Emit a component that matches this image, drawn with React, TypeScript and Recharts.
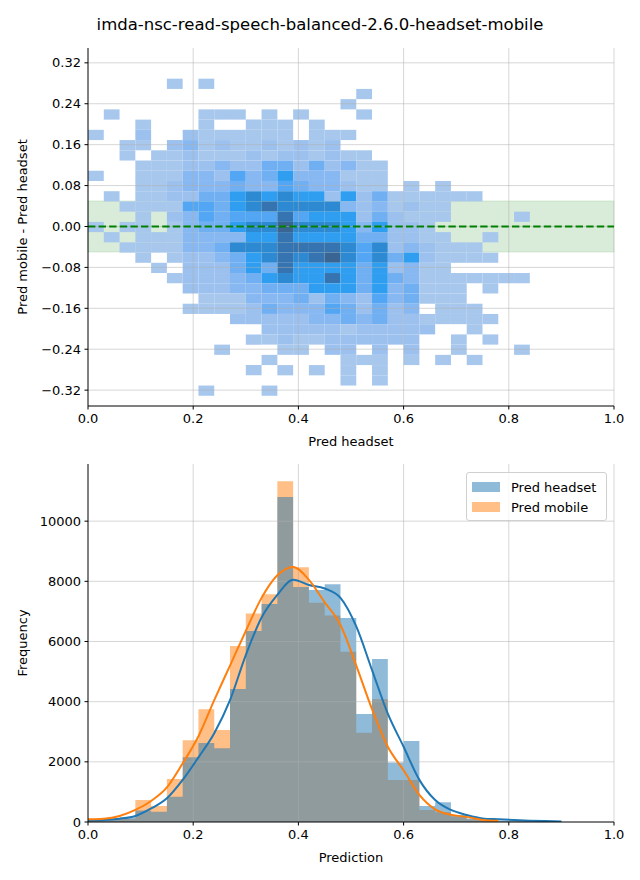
import React from "react";
import {
  ComposedChart,
  XAxis,
  YAxis,
  ReferenceArea,
  ReferenceLine,
  Area,
  Line,
  Legend,
} from "recharts";

const FONT = "'DejaVu Sans', sans-serif";
const TITLE = "imda-nsc-read-speech-balanced-2.6.0-headset-mobile";

// bin edges on the prediction axis (shared by both plots)
const BIN_EDGES = [
  0, 0.03, 0.06, 0.09, 0.12, 0.15, 0.18, 0.21, 0.24, 0.27, 0.3, 0.33, 0.36,
  0.39, 0.42, 0.45, 0.48, 0.51, 0.54, 0.57, 0.6, 0.63, 0.66, 0.69, 0.72, 0.75,
  0.78, 0.81, 0.84, 0.87, 0.9,
];

// ---- top plot: 2d histogram, rows of 0.02 starting at 0.289 going down
const ROW_TOP = 0.289;
const ROW_H = 0.02;

// one string per row (top first), one digit per column: shade level, 0 = empty
const HEAT_ROWS = [
  "0000010100000000000000000000",
  "0000000000000000010000000000",
  "0000000000000000100000000000",
  "0100000111010100010000000000",
  "0001000100111010000000000000",
  "1002002111111011100000000000",
  "0011023121121212000000000000",
  "0010112111212212110000000000",
  "0001112232244242311000000000",
  "1001113325346333111000000000",
  "0001123334335433211010100000",
  "0101122446767662624111111000",
  "0011115546787777323121100000",
  "0001023545558566624211100001",
  "1011013446779777636221000000",
  "0101113333668666644221100100",
  "0011113347778888757232111000",
  "0001012234678789757462111100",
  "0000102224648666646231100000",
  "0000012223467668646431111111",
  "0000002223344466646341110100",
  "0000000111333424325341110000",
  "0000001111243335424230111000",
  "0000000002222233434221111100",
  "0000000000022222122222001000",
  "0000000000112112222220010100",
  "0000000010001102202020010001",
  "0000000000010000111010101000",
  "0000000000101010101000000000",
  "0000000000000000101000000000",
  "0000000100010000000000000000",
];

const HEAT_COLORS = [
  "none",
  "#a7c7ed",
  "#9cc1ef",
  "#88b8f1",
  "#70aff2",
  "#53a6f4",
  "#309ef0",
  "#2d89d2",
  "#3574b0",
  "#3a6592",
];

const PRED_TICKS = [0, 0.2, 0.4, 0.6, 0.8, 1.0];
const DIFF_TICKS = [-0.32, -0.24, -0.16, -0.08, 0, 0.08, 0.16, 0.24, 0.32];
const DIFF_DOMAIN = [-0.351, 0.349];
const BAND = [-0.05, 0.05];

// ---- bottom plot: counts per bin and kde curves (read at the bin edges)
const HEADSET_COUNTS = [
  40, 100, 150, 380, 340, 840, 2150, 2630, 2450, 4420, 6350, 7250, 10800, 7810,
  7710, 7900, 6780, 3590, 5420, 1980, 2690, 530, 660, 230, 120, 60, 40, 30, 20,
  10,
];
const MOBILE_COUNTS = [
  60, 130, 110, 730, 530, 1430, 2720, 3750, 3060, 5850, 6930, 7570, 11330, 8470,
  7290, 6860, 5660, 2970, 4080, 1400, 1400, 400, 320, 180, 90, 40, 20, 15, 10, 5,
];
const HEADSET_KDE = [
  44, 70, 110, 200, 450, 790, 1400, 2150, 2950, 4050, 5550, 6800, 7550, 8050,
  7880, 7760, 7450, 6500, 5050, 3600, 2500, 1400, 730, 400, 235, 120, 90, 65,
  45, 30, 20,
];
const MOBILE_KDE = [
  89, 110, 200, 400, 700, 1150, 1950, 2850, 4050, 5200, 6350, 7450, 8200, 8480,
  8050, 7300, 6550, 5200, 3750, 2500, 1720, 900, 420, 240, 170, 70, 40,
];
const FREQ_TICKS = [0, 2000, 4000, 6000, 8000, 10000];
const FREQ_DOMAIN = [0, 11900];

const cells: { key: string; x1: number; x2: number; y1: number; y2: number; level: number }[] = [];
HEAT_ROWS.forEach((row, j) => {
  row.split("").forEach((ch, k) => {
    const level = Number(ch);
    if (level > 0) {
      cells.push({
        key: `${j}-${k}`,
        x1: BIN_EDGES[k],
        x2: BIN_EDGES[k + 1],
        y1: ROW_TOP - (j + 1) * ROW_H,
        y2: ROW_TOP - j * ROW_H,
        level,
      });
    }
  });
});

const histData = BIN_EDGES.map((x, i) => ({
  x,
  headset: HEADSET_COUNTS[i] ?? 0,
  mobile: MOBILE_COUNTS[i] ?? 0,
  headsetKde: HEADSET_KDE[i] ?? null,
  mobileKde: MOBILE_KDE[i] ?? null,
}));

const tickStyle = { fill: "#000", fontSize: 13, fontFamily: FONT };
const labelStyle = { fill: "#000", fontSize: 13, fontFamily: FONT };
const gridProps = { stroke: "#b0b0b0", strokeOpacity: 0.5, strokeWidth: 1 };

const minus = (v: number) => (v < 0 ? "\u2212" : "") + Math.abs(v).toFixed(2);

function LegendBox() {
  const rows = [
    { name: "Pred headset", color: "#1f77b4" },
    { name: "Pred mobile", color: "#ff7f0e" },
  ];
  return (
    <div
      style={{
        border: "1px solid #d0d0d0",
        borderRadius: 3,
        background: "rgba(255,255,255,0.8)",
        padding: "4px 6px 3px 5px",
        fontFamily: FONT,
        fontSize: 13,
        color: "#000",
      }}
    >
      {rows.map((r) => (
        <div key={r.name} style={{ display: "flex", alignItems: "center", height: 20 }}>
          <span
            style={{
              display: "inline-block",
              width: 28,
              height: 10,
              background: r.color,
              opacity: 0.5,
              marginRight: 11,
            }}
          />
          {r.name}
        </div>
      ))}
    </div>
  );
}

function Heatmap() {
  return (
    <ComposedChart
      width={640}
      height={452}
      margin={{ top: 48, right: 26, bottom: 0, left: 0 }}
    >
      <XAxis
        type="number"
        dataKey="x"
        domain={[0, 1]}
        ticks={PRED_TICKS}
        tickFormatter={(v: number) => v.toFixed(1)}
        allowDataOverflow
        height={46}
        tickSize={3.5}
        tickMargin={4}
        tick={tickStyle}
        axisLine={{ stroke: "#000" }}
        tickLine={{ stroke: "#000" }}
        label={{ value: "Pred headset", position: "insideBottom", offset: 6, ...labelStyle }}
      />
      <YAxis
        type="number"
        domain={DIFF_DOMAIN}
        ticks={DIFF_TICKS}
        tickFormatter={minus}
        allowDataOverflow
        width={88}
        tickSize={3.5}
        tickMargin={3.5}
        tick={tickStyle}
        axisLine={{ stroke: "#000" }}
        tickLine={{ stroke: "#000" }}
        label={{
          value: "Pred mobile - Pred headset",
          angle: -90,
          position: "insideLeft",
          offset: 22,
          style: { textAnchor: "middle" },
          ...labelStyle,
        }}
      />
      <ReferenceArea
        x1={0}
        x2={1}
        y1={BAND[0]}
        y2={BAND[1]}
        fill="green"
        fillOpacity={0.15}
        stroke="green"
        strokeOpacity={0.12}
      />
      {cells.map((c) => (
        <ReferenceArea
          key={c.key}
          x1={c.x1}
          x2={c.x2}
          y1={c.y1}
          y2={c.y2}
          fill={HEAT_COLORS[c.level]}
          fillOpacity={1}
          stroke="none"
        />
      ))}
      {PRED_TICKS.slice(1).map((t) => (
        <ReferenceLine key={`gx${t}`} x={t} {...gridProps} />
      ))}
      {DIFF_TICKS.map((t) => (
        <ReferenceLine key={`gy${t}`} y={t} {...gridProps} />
      ))}
      <ReferenceLine y={0} stroke="green" strokeWidth={2} strokeDasharray="7.4 3.2" />
    </ComposedChart>
  );
}

function Histogram() {
  return (
    <ComposedChart
      width={640}
      height={428}
      data={histData}
      margin={{ top: 12, right: 26, bottom: 0, left: 0 }}
    >
      <XAxis
        type="number"
        dataKey="x"
        domain={[0, 1]}
        ticks={PRED_TICKS}
        tickFormatter={(v: number) => v.toFixed(1)}
        allowDataOverflow
        height={58}
        tickSize={3.5}
        tickMargin={4}
        tick={tickStyle}
        axisLine={{ stroke: "#000" }}
        tickLine={{ stroke: "#000" }}
        label={{ value: "Prediction", position: "insideBottom", offset: 18, ...labelStyle }}
      />
      <YAxis
        type="number"
        domain={FREQ_DOMAIN}
        ticks={FREQ_TICKS}
        allowDataOverflow
        width={88}
        tickSize={3.5}
        tickMargin={3.5}
        tick={tickStyle}
        axisLine={{ stroke: "#000" }}
        tickLine={{ stroke: "#000" }}
        label={{
          value: "Frequency",
          angle: -90,
          position: "insideLeft",
          offset: 22,
          style: { textAnchor: "middle" },
          ...labelStyle,
        }}
      />
      <Area
        type="stepAfter"
        dataKey="mobile"
        name="Pred mobile"
        fill="#ff7f0e"
        fillOpacity={0.5}
        stroke="none"
        isAnimationActive={false}
      />
      <Area
        type="stepAfter"
        dataKey="headset"
        name="Pred headset"
        fill="#1f77b4"
        fillOpacity={0.5}
        stroke="none"
        isAnimationActive={false}
      />
      {PRED_TICKS.slice(1).map((t) => (
        <ReferenceLine key={`gx${t}`} x={t} {...gridProps} />
      ))}
      {FREQ_TICKS.slice(1).map((t) => (
        <ReferenceLine key={`gy${t}`} y={t} {...gridProps} />
      ))}
      <Line
        type="monotone"
        dataKey="headsetKde"
        stroke="#1f77b4"
        strokeWidth={2}
        dot={false}
        activeDot={false}
        legendType="none"
        isAnimationActive={false}
      />
      <Line
        type="monotone"
        dataKey="mobileKde"
        stroke="#ff7f0e"
        strokeWidth={2}
        dot={false}
        activeDot={false}
        legendType="none"
        isAnimationActive={false}
      />
      <Legend
        layout="horizontal"
        verticalAlign="middle"
        content={() => <LegendBox />}
        wrapperStyle={{ top: 20, left: 466, width: 141, bottom: "auto", right: "auto" }}
      />
    </ComposedChart>
  );
}

export default function App() {
  return (
    <div
      style={{
        position: "absolute",
        left: 0,
        top: 0,
        width: 640,
        height: 880,
        background: "#fff",
        fontFamily: FONT,
      }}
    >
      <div
        style={{
          position: "absolute",
          top: 15,
          left: 0,
          width: 640,
          textAlign: "center",
          fontSize: 16.5,
          color: "#000",
        }}
      >
        {TITLE}
      </div>
      <div style={{ position: "absolute", top: 0, left: 0 }}>
        <Heatmap />
      </div>
      <div style={{ position: "absolute", top: 452, left: 0 }}>
        <Histogram />
      </div>
    </div>
  );
}
